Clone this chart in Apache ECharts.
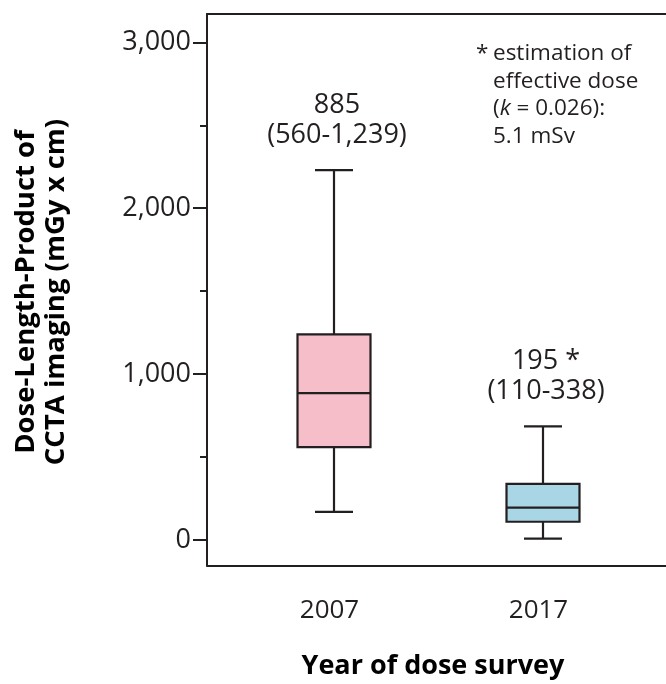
<!DOCTYPE html>
<html>
<head>
<meta charset="utf-8">
<script src="https://cdn.jsdelivr.net/npm/echarts@6/dist/echarts.min.js"></script>
<style>
  html, body { margin: 0; padding: 0; background: #fff; }
  #chart { width: 666px; height: 684px; }
</style>
</head>
<body>
<div id="chart"></div>
<script>
// Survey years and dose-length-product distributions (mGy x cm)
const years = ['2007', '2017'];
const whiskerLow = [170, 8];
const quartile1 = [560, 110];
const medians = [885, 195];
const quartile3 = [1239, 338];
const whiskerHigh = [2230, 685];
const medianNotes = ['', ' *'];
const boxColors = ['#f5bec9', '#a9d6e4'];
const yTicks = [0, 1000, 2000, 3000];

const ink = '#231f20';
const font = '"Open Sans", "Noto Sans", sans-serif';

const fmt = v => v.toLocaleString('en-US');

const seriesData = years.map((y, i) =>
  [i, whiskerLow[i], quartile1[i], medians[i], quartile3[i], whiskerHigh[i]]);

function renderItem(params, api) {
  const i = api.value(0);
  const pLow = api.coord([i, api.value(1)]);
  const pQ1 = api.coord([i, api.value(2)]);
  const pMed = api.coord([i, api.value(3)]);
  const pQ3 = api.coord([i, api.value(4)]);
  const pHigh = api.coord([i, api.value(5)]);
  const cx = pLow[0];
  const half = 36.5, capHalf = 19;
  const stroke = { stroke: ink, lineWidth: 2.2 };
  return {
    type: 'group',
    children: [
      { type: 'line', shape: { x1: cx, y1: pHigh[1], x2: cx, y2: pQ3[1] }, style: stroke },
      { type: 'line', shape: { x1: cx, y1: pQ1[1], x2: cx, y2: pLow[1] }, style: stroke },
      { type: 'line', shape: { x1: cx - capHalf, y1: pHigh[1], x2: cx + capHalf, y2: pHigh[1] }, style: stroke },
      { type: 'line', shape: { x1: cx - capHalf, y1: pLow[1], x2: cx + capHalf, y2: pLow[1] }, style: stroke },
      { type: 'rect', shape: { x: cx - half, y: pQ3[1], width: half * 2, height: pQ1[1] - pQ3[1] },
        style: { fill: boxColors[i], stroke: ink, lineWidth: 2.2 } },
      { type: 'line', shape: { x1: cx - half, y1: pMed[1], x2: cx + half, y2: pMed[1] }, style: stroke },
      { type: 'text', x: cx + 3, y: pHigh[1] - 65,
        style: { text: fmt(api.value(3)) + medianNotes[i], fill: ink, font: '27px ' + font,
                 align: 'center', verticalAlign: 'middle' } },
      { type: 'text', x: cx + 3, y: pHigh[1] - 35,
        style: { text: '(' + fmt(api.value(2)) + '-' + fmt(api.value(4)) + ')', fill: ink, font: '27px ' + font,
                 align: 'center', verticalAlign: 'middle' } }
    ]
  };
}

const chart = echarts.init(document.getElementById('chart'), null, { renderer: 'canvas' });

const frameLine = { show: true, lineStyle: { color: ink, width: 2 } };

chart.setOption({
  animation: false,
  backgroundColor: '#fff',
  grid: [
    // open frame: left, top and bottom edges, running off the right side
    { left: 207, top: 14, right: 0, bottom: 118.5 },
    // data area
    { left: 229.5, top: 42.3, right: 18.5, bottom: 144 }
  ],
  xAxis: [
    { gridIndex: 0, type: 'value', position: 'bottom', axisLine: frameLine,
      axisTick: { show: false }, axisLabel: { show: false }, splitLine: { show: false } },
    {
      gridIndex: 1, type: 'category', data: years, boundaryGap: true,
      axisLine: { show: false }, axisTick: { show: false },
      axisLabel: { color: ink, fontSize: 26, fontFamily: font, margin: 58, padding: [0, 9, 0, 0] }
    },
    { gridIndex: 0, type: 'value', position: 'top', axisLine: frameLine,
      axisTick: { show: false }, axisLabel: { show: false }, splitLine: { show: false } }
  ],
  yAxis: [
    { gridIndex: 0, type: 'value', position: 'left', axisLine: frameLine,
      axisTick: { show: false }, axisLabel: { show: false }, splitLine: { show: false } },
    {
      gridIndex: 1, type: 'value', min: yTicks[0], max: yTicks[yTicks.length - 1], interval: 1000,
      offset: 22.5,
      axisLine: { show: false },
      axisTick: { show: true, length: 14, lineStyle: { color: ink, width: 2 } },
      minorTick: { show: true, splitNumber: 2, length: 7, lineStyle: { color: ink, width: 2 } },
      splitLine: { show: false },
      axisLabel: { color: ink, fontSize: 27, fontFamily: font, margin: 16, formatter: v => fmt(v) }
    }
  ],
  series: [{
    type: 'custom',
    xAxisIndex: 1, yAxisIndex: 1,
    renderItem: renderItem,
    encode: { x: 0, y: [1, 2, 3, 4, 5] },
    data: seriesData,
    clip: false
  }],
  graphic: [
    {
      type: 'text', x: 41, y: 292, rotation: Math.PI / 2,
      style: { text: 'Dose-Length-Product of\nCCTA imaging (mGy x cm)', fill: '#000',
               font: 'bold 27.5px ' + font, lineHeight: 30, align: 'center', verticalAlign: 'middle' }
    },
    {
      type: 'text', x: 433, y: 666,
      style: { text: 'Year of dose survey', fill: '#000', font: 'bold 27px ' + font,
               align: 'center', verticalAlign: 'middle' }
    },
    {
      type: 'text', x: 476, y: 40,
      style: { text: '*', fill: ink, font: '22.5px ' + font, lineHeight: 27.5 }
    },
    {
      type: 'text', x: 493, y: 40,
      style: {
        text: 'estimation of\neffective dose\n({k|k} = 0.026):\n5.1 mSv',
        fill: ink, font: '22.5px ' + font, lineHeight: 27.5,
        rich: { k: { fontStyle: 'italic', fontSize: 22.5, fontFamily: font, fill: ink } }
      }
    }
  ]
});
</script>
</body>
</html>
